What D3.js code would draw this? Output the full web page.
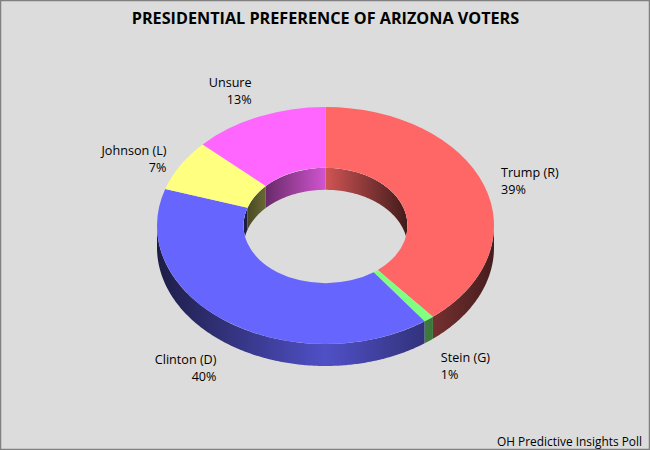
<!DOCTYPE html>
<html>
<head>
<meta charset="utf-8">
<script src="https://cdnjs.cloudflare.com/ajax/libs/d3/7.8.5/d3.min.js"></script>
<style>
  html, body { margin: 0; padding: 0; background: #dcdcdc; }
  svg { display: block; }
  text { font-family: "Open Sans", sans-serif; fill: #000; }
</style>
</head>
<body>
<div class="g-chart"></div>
<script>
//Local data
var categories = ["Trump (R)", "Stein (G)", "Clinton (D)", "Johnson (L)", "Unsure"];
var shares = [39, 1, 40, 7, 13];
var sliceColors = ["#ff6666", "#80ff80", "#6666ff", "#ffff80", "#ff66ff"];

var headline = "PRESIDENTIAL PREFERENCE OF ARIZONA VOTERS";
var source = "OH Predictive Insights Poll";

//Chart geometry
var width = 650, height = 450;
var cx = 325.5, cy = 225.5;
var outerR = 168.5, innerR = 82;
var squash = 118.5 / 168.5;   //tilt of the ring
var depth = 22;

var svg = d3.select(".g-chart").append("svg")
  .attr("width", width)
  .attr("height", height);

svg.append("rect")
  .attr("x", 0.5).attr("y", 0.5)
  .attr("width", width - 1).attr("height", height - 1)
  .attr("fill", "#dcdcdc")
  .attr("stroke", "#808080")
  .attr("stroke-width", 1.5);

var defs = svg.append("defs");

var pie = d3.pie().sort(null).value(function(d) { return d; });
var slices = pie(shares);

var arc = d3.arc().innerRadius(innerR).outerRadius(outerR);

var TAU = Math.PI * 2;

//Horizontal shading, dark at the rim sides and light in the middle
function addShade(id, color, radius, mid, edge) {
  var shade = d3.scaleLinear().domain([-1, 0, 1]).range([edge, mid, edge]);
  var c = d3.rgb(color);
  var g = defs.append("linearGradient")
    .attr("id", id)
    .attr("gradientUnits", "userSpaceOnUse")
    .attr("x1", cx - radius).attr("x2", cx + radius)
    .attr("y1", 0).attr("y2", 0);
  [-1, 0, 1].forEach(function(t) {
    var k = shade(t);
    g.append("stop")
      .attr("offset", (t + 1) / 2)
      .attr("stop-color", d3.rgb(c.r * k, c.g * k, c.b * k).formatHex());
  });
}

//Band between an elliptical arc and the same arc moved down by depth
function wallPath(radius, a0, a1) {
  var n = Math.max(2, Math.ceil((a1 - a0) / 0.01));
  var angles = d3.range(n + 1).map(function(i) { return a0 + (a1 - a0) * i / n; });
  var top = angles.map(function(a) {
    return [cx + radius * Math.sin(a), cy - radius * squash * Math.cos(a)];
  });
  var bottom = top.slice().reverse().map(function(p) { return [p[0], p[1] + depth]; });
  return d3.line()(top.concat(bottom)) + "Z";
}

defs.append("clipPath").attr("id", "hole-clip")
  .append("ellipse")
  .attr("cx", cx).attr("cy", cy)
  .attr("rx", innerR).attr("ry", innerR * squash);

//Inner wall shows only on the far half of the hole
var innerWalls = svg.append("g").attr("clip-path", "url(#hole-clip)");
//Outer wall shows only on the near half of the ring
var outerWalls = svg.append("g");

slices.forEach(function(d, i) {
  addShade("outer-" + i, sliceColors[i], outerR, 0.78, 0.28);
  addShade("inner-" + i, sliceColors[i], innerR, 0.82, 0.26);

  var a0 = Math.max(d.startAngle, TAU / 4), a1 = Math.min(d.endAngle, TAU * 3 / 4);
  if (a1 > a0) {
    outerWalls.append("path")
      .attr("d", wallPath(outerR, a0, a1))
      .attr("fill", "url(#outer-" + i + ")");
  }

  [[TAU * 3 / 4, TAU], [0, TAU / 4]].forEach(function(r) {
    var b0 = Math.max(d.startAngle, r[0]), b1 = Math.min(d.endAngle, r[1]);
    if (b1 > b0) {
      innerWalls.append("path")
        .attr("d", wallPath(innerR, b0, b1))
        .attr("fill", "url(#inner-" + i + ")");
    }
  });
});

//Top face of the ring
svg.append("g")
  .attr("transform", "translate(" + cx + "," + cy + ") scale(1," + squash + ")")
  .selectAll("path")
  .data(slices)
  .enter()
  .append("path")
  .attr("d", arc)
  .attr("fill", function(d, i) { return sliceColors[i]; });

//Labels sit off the rim at each slice's middle angle
var labelNudge = [[17, -8], [12, 21], [-10, 21], [-14, -10], [-7, -30]];

var labels = svg.selectAll(".g-label")
  .data(slices)
  .enter()
  .append("text")
  .attr("class", "g-label")
  .attr("font-size", 12.6)
  .attr("text-anchor", function(d) {
    return (d.startAngle + d.endAngle) / 2 < Math.PI ? "start" : "end";
  })
  .attr("transform", function(d, i) {
    var mid = (d.startAngle + d.endAngle) / 2;
    var x = cx + outerR * Math.sin(mid) + labelNudge[i][0];
    var y = cy - outerR * squash * Math.cos(mid) + labelNudge[i][1] + (Math.cos(mid) < 0 ? depth : 0);
    return "translate(" + x + "," + y + ")";
  });

labels.append("tspan")
  .attr("x", 0).attr("y", 0)
  .text(function(d, i) { return categories[i]; });

labels.append("tspan")
  .attr("x", 0).attr("y", 17)
  .text(function(d) { return d.value + "%"; });

//Chart headline
svg.append("text")
  .attr("x", 325.5).attr("y", 24)
  .attr("text-anchor", "middle")
  .attr("font-size", 16.2)
  .attr("font-weight", "bold")
  .text(headline);

//Source
svg.append("text")
  .attr("x", 642).attr("y", 446)
  .attr("text-anchor", "end")
  .attr("font-size", 11.9)
  .text(source);
</script>
</body>
</html>
